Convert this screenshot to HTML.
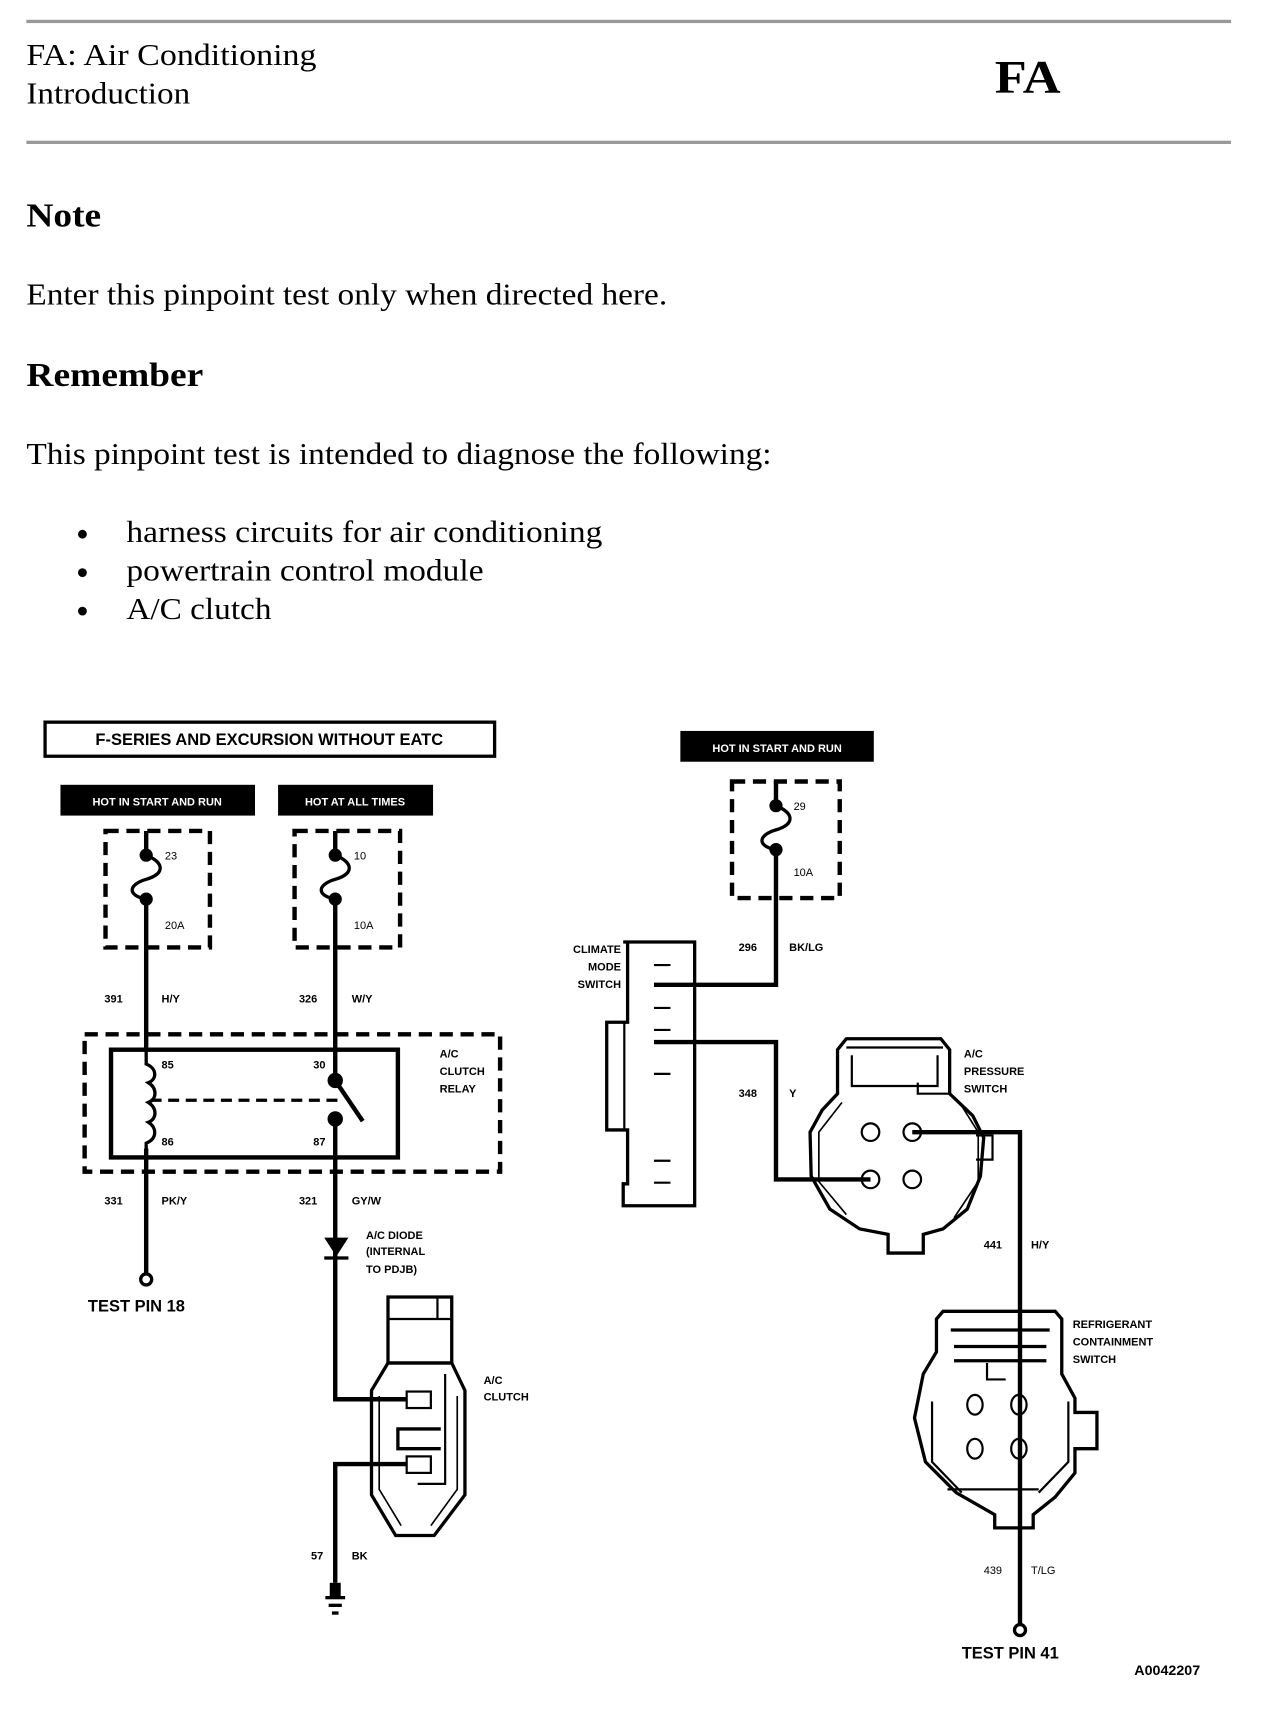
<!DOCTYPE html>
<html><head><meta charset="utf-8"><style>
html,body{margin:0;padding:0;background:#fff}
svg{display:block}
.s{font-family:"Liberation Serif",serif}
.d{font-family:"Liberation Sans",sans-serif;font-weight:bold}
</style></head><body>
<svg width="1264" height="1718" viewBox="0 0 1150 1563" preserveAspectRatio="none" xmlns="http://www.w3.org/2000/svg">
<rect x="24" y="18" width="1096" height="3" fill="#999"/>
<rect x="24" y="128" width="1096" height="3" fill="#999"/>
<text class="s" x="24" y="59" font-size="28" textLength="264" lengthAdjust="spacingAndGlyphs">FA: Air Conditioning</text>
<text class="s" x="24" y="94" font-size="28" textLength="149" lengthAdjust="spacingAndGlyphs">Introduction</text>
<text class="s" x="905" y="84" font-size="42" font-weight="bold" textLength="60" lengthAdjust="spacingAndGlyphs">FA</text>
<text class="s" x="24" y="206" font-size="31" font-weight="bold" textLength="68" lengthAdjust="spacingAndGlyphs">Note</text>
<text class="s" x="24" y="277" font-size="28" textLength="583" lengthAdjust="spacingAndGlyphs">Enter this pinpoint test only when directed here.</text>
<text class="s" x="24" y="351" font-size="31" font-weight="bold" textLength="161" lengthAdjust="spacingAndGlyphs">Remember</text>
<text class="s" x="24" y="422" font-size="28" textLength="678" lengthAdjust="spacingAndGlyphs">This pinpoint test is intended to diagnose the following:</text>
<g class="s" font-size="28">
<circle cx="75" cy="486" r="4"/><text x="115" y="493" textLength="433" lengthAdjust="spacingAndGlyphs">harness circuits for air conditioning</text>
<circle cx="75" cy="521" r="4"/><text x="115" y="528" textLength="325" lengthAdjust="spacingAndGlyphs">powertrain control module</text>
<circle cx="75" cy="556" r="4"/><text x="115" y="563" textLength="132" lengthAdjust="spacingAndGlyphs">A/C clutch</text>
</g>

<g fill="none" stroke="#000" stroke-width="3">
<rect x="41" y="657" width="409" height="31"/>
<g stroke-dasharray="12,7" stroke-width="4">
<rect x="96" y="756" width="95" height="106"/>
<rect x="268" y="756" width="96" height="106"/>
<rect x="666" y="711" width="98" height="106"/>
<rect x="77" y="941" width="378" height="125"/>
</g>
<path d="M133 756 V778 M133 818 V955 M133 1045 V1160" stroke-width="4"/>
<path d="M305 756 V778 M305 818 V983 M305 1018 V1273 H370" stroke-width="4"/>
<path d="M370 1332 H305 V1440" stroke-width="4"/>
<path d="M133 778 C150 785 150 795 133 800 C116 805 116 815 133 818" stroke-width="3"/>
<path d="M305 778 C322 785 322 795 305 800 C288 805 288 815 305 818" stroke-width="3"/>
<path d="M706 711 V733 M706 773 V896 H595" stroke-width="4"/>
<path d="M706 733 C723 740 723 750 706 755 C689 760 689 770 706 773" stroke-width="3"/>
<path d="M595 948 H706 V1073 H792" stroke-width="4"/>
<path d="M830 1030 H928 V1478" stroke-width="4"/>
<rect x="101" y="955" width="261" height="98" stroke-width="4"/>
<path d="M133 955 V968 C143 972 143 982 135 985 C143 990 143 1000 135 1003 C143 1008 143 1018 135 1021 C143 1026 143 1036 133 1040 V1053" stroke-width="3"/>
<path d="M137 1001 H312" stroke-dasharray="10,6" stroke-width="3"/>
<path d="M305 983 L330 1020" stroke-width="4"/>
<circle cx="133" cy="1164" r="5" stroke-width="3"/>
<circle cx="928" cy="1483" r="5" stroke-width="3"/>
<rect x="353" y="1180" width="58" height="60" stroke-width="3"/>
<path d="M353 1200 H411 M398 1180 V1200" stroke-width="2"/>
<path d="M353 1240 L338 1265 V1360 L360 1397 H395 L423 1360 V1265 L411 1240 Z" stroke-width="3"/>
<path d="M345 1270 V1355 L365 1388 M416 1270 V1355 L392 1388" stroke-width="1.5"/>
<rect x="370" y="1266" width="22" height="15" stroke-width="2"/>
<rect x="370" y="1325" width="22" height="15" stroke-width="2"/>
<path d="M401 1300 H362 V1318 H401" stroke-width="3"/>
<path d="M405 1250 V1350 H380" stroke-width="2"/>
<path d="M567 857 H632 V1097 H567 V1077 H571 V1028 H552 V930 H571 V857" stroke-width="3"/>
<path d="M568 930 V1028" stroke-width="2"/>
<path d="M595 878 H610 M595 917 H610 M595 937 H610 M595 977 H610 M595 1056 H610 M595 1076 H610" stroke-width="2"/>
<!-- pressure switch -->
<path d="M762 955 L770 945 H856 L864 955 V995 L885 1015 L895 1035 L892 1070 L880 1100 L858 1118 L840 1123 V1140 L808 1140 V1123 L782 1118 L755 1100 L738 1070 L737 1030 L748 1010 L762 995 Z" stroke-width="3"/>
<path d="M770 953 H858 M775 960 V988 H853 V960 M835 985 V995 H865" stroke-width="2"/>
<path d="M766 1003 L745 1030 V1075 L770 1105 M873 1003 L890 1030 V1075 L868 1108" stroke-width="1.5"/>
<path d="M888 1033 H903 V1055 H888" stroke-width="2"/>
<circle cx="792" cy="1030" r="8" stroke-width="2"/>
<circle cx="830" cy="1030" r="8" stroke-width="2"/>
<circle cx="792" cy="1073" r="8" stroke-width="2"/>
<circle cx="830" cy="1073" r="8" stroke-width="2"/>
<!-- refrigerant switch -->
<path d="M858 1193 H960 L966 1200 V1250 L978 1272 V1285 H998 V1318 H978 V1340 L960 1362 L940 1378 V1390 H905 V1378 L870 1358 L842 1330 L832 1290 L840 1250 L852 1230 V1200 Z" stroke-width="3"/>
<path d="M865 1210 H955 M868 1225 H952 M868 1238 H952" stroke-width="3"/>
<path d="M898 1240 V1255 H915" stroke-width="2"/>
<path d="M848 1275 V1330 L875 1358 M972 1275 V1330 L945 1358 M862 1355 H945" stroke-width="2"/>
<ellipse cx="887" cy="1278" rx="7" ry="9" stroke-width="2"/>
<ellipse cx="927" cy="1278" rx="7" ry="9" stroke-width="2"/>
<ellipse cx="887" cy="1318" rx="7" ry="9" stroke-width="2"/>
<ellipse cx="927" cy="1318" rx="7" ry="9" stroke-width="2"/>
</g>
<g fill="#000">
<circle cx="133" cy="778" r="6"/><circle cx="133" cy="818" r="6"/>
<circle cx="305" cy="778" r="6"/><circle cx="305" cy="818" r="6"/>
<circle cx="706" cy="733" r="6"/><circle cx="706" cy="773" r="6"/>
<circle cx="305" cy="983" r="7"/><circle cx="305" cy="1018" r="7"/>
<polygon points="295,1126 317,1126 306,1143"/>
<rect x="295" y="1143" width="22" height="3"/>
<path d="M300 1440 H310 V1452 H300 Z"/>
<rect x="296" y="1452" width="18" height="3"/><rect x="299" y="1459" width="12" height="3"/><rect x="302" y="1466" width="6" height="3"/>
<rect x="55" y="714" width="177" height="28"/>
<rect x="253" y="714" width="141" height="28"/>
<rect x="619" y="665" width="176" height="28"/>
</g>
<g class="d" font-size="10" fill="#fff">
<text x="143" y="733" text-anchor="middle">HOT IN START AND RUN</text>
<text x="323" y="733" text-anchor="middle">HOT AT ALL TIMES</text>
<text x="707" y="684" text-anchor="middle">HOT IN START AND RUN</text>
</g>
<g class="d" fill="#000">
<text x="245" y="678" font-size="15" text-anchor="middle">F-SERIES AND EXCURSION WITHOUT EATC</text>
<g font-size="10">
<text x="150" y="782" font-weight="normal">23</text><text x="150" y="845" font-weight="normal">20A</text>
<text x="322" y="782" font-weight="normal">10</text><text x="322" y="845" font-weight="normal">10A</text>
<text x="722" y="737" font-weight="normal">29</text><text x="722" y="797" font-weight="normal">10A</text>
<text x="95" y="912">391</text><text x="147" y="912">H/Y</text>
<text x="272" y="912">326</text><text x="320" y="912">W/Y</text>
<text x="147" y="972">85</text><text x="285" y="972">30</text>
<text x="147" y="1042">86</text><text x="285" y="1042">87</text>
<text x="400" y="962">A/C</text><text x="400" y="978">CLUTCH</text><text x="400" y="994">RELAY</text>
<text x="95" y="1096">331</text><text x="147" y="1096">PK/Y</text>
<text x="272" y="1096">321</text><text x="320" y="1096">GY/W</text>
<text x="333" y="1127">A/C DIODE</text><text x="333" y="1142">(INTERNAL</text><text x="333" y="1158">TO PDJB)</text>
<text x="440" y="1259">A/C</text><text x="440" y="1274">CLUTCH</text>
<text x="283" y="1419">57</text><text x="320" y="1419">BK</text>
<text x="565" y="867" text-anchor="end">CLIMATE</text><text x="565" y="883" text-anchor="end">MODE</text><text x="565" y="899" text-anchor="end">SWITCH</text>
<text x="672" y="865">296</text><text x="718" y="865">BK/LG</text>
<text x="672" y="998">348</text><text x="718" y="998">Y</text>
<text x="877" y="962">A/C</text><text x="877" y="978">PRESSURE</text><text x="877" y="994">SWITCH</text>
<text x="895" y="1136">441</text><text x="938" y="1136">H/Y</text>
<text x="976" y="1208">REFRIGERANT</text><text x="976" y="1224">CONTAINMENT</text><text x="976" y="1240">SWITCH</text>
<text x="895" y="1432" font-weight="normal">439</text><text x="938" y="1432" font-weight="normal">T/LG</text>
</g>
<text x="80" y="1193" font-size="15">TEST PIN 18</text>
<text x="875" y="1509" font-size="15">TEST PIN 41</text>
<text x="1032" y="1524" font-size="13">A0042207</text>
</g>
</svg>
</body></html>
